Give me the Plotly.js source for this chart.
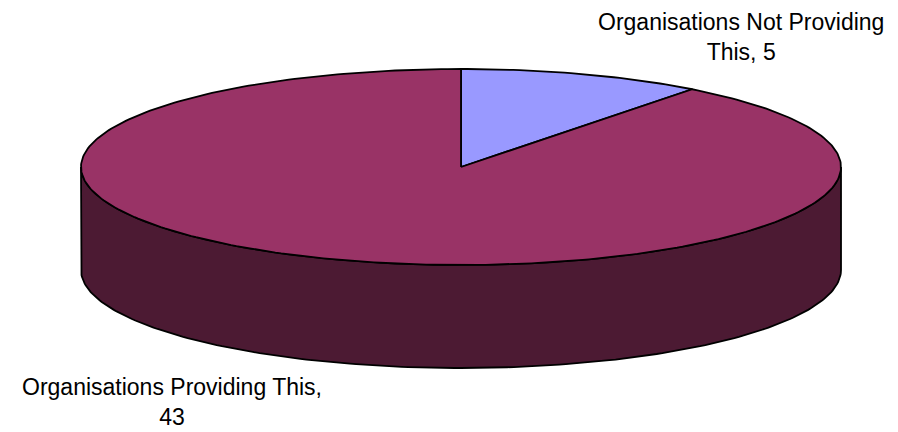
<!DOCTYPE html>
<html><head><meta charset="utf-8">
<script src="https://cdn.plot.ly/plotly-3.0.1.min.js"></script>
<style>html,body{margin:0;padding:0;background:#fff}</style>
</head><body><div id="chart" style="width:898px;height:432px"></div>
<script>
const labels = ["Organisations Not Providing This", "Organisations Providing This"];
const values = [5, 43];
const topColors = ["#9999FF", "#993366"];
const sideColors = ["#4D4D80", "#4C1A33"];

// geometry of the 3-D pie (pixel space of the plot area)
const cx = 461, cy = 167, rx = 380, ry = 98, depth = 103;

const total = values.reduce((a, b) => a + b, 0);
function pt(deg, dy) {
  const r = deg * Math.PI / 180;
  return [cx + rx * Math.sin(r), cy - ry * Math.cos(r) + (dy || 0)];
}
function arc(a0, a1, dy) {
  const n = Math.max(2, Math.ceil(Math.abs(a1 - a0) / 1));
  const out = [];
  for (let i = 0; i <= n; i++) out.push(pt(a0 + (a1 - a0) * i / n, dy));
  return out;
}
const traces = [];
let start = 0;
const slices = values.map((v, i) => {
  const s = { i, a0: start, a1: start + v / total * 360 };
  start = s.a1;
  return s;
});
// sides (front half: 90..270 deg)
slices.forEach(s => {
  const a0 = Math.max(s.a0, 90), a1 = Math.min(s.a1, 270);
  if (a1 <= a0) return;
  const pts = arc(a0, a1, 0).concat(arc(a1, a0, depth));
  pts.push(pts[0]);
  traces.push({
    type: "scatter", mode: "lines", fill: "toself",
    x: pts.map(p => p[0]), y: pts.map(p => p[1]),
    fillcolor: sideColors[s.i], line: { color: "#000", width: 1.8 },
    hoverinfo: "skip", showlegend: false
  });
});
// tops
slices.forEach(s => {
  const pts = [[cx, cy]].concat(arc(s.a0, s.a1, 0));
  pts.push([cx, cy]);
  traces.push({
    type: "scatter", mode: "lines", fill: "toself",
    x: pts.map(p => p[0]), y: pts.map(p => p[1]),
    fillcolor: topColors[s.i], line: { color: "#000", width: 1.8 },
    name: labels[s.i], text: labels[s.i] + ", " + values[s.i],
    hoverinfo: "text", showlegend: false
  });
});

const font = { family: "Liberation Sans, Arial, sans-serif", size: 23, color: "#000" };
const layout = {
  width: 898, height: 432,
  margin: { l: 0, r: 0, t: 0, b: 0 },
  paper_bgcolor: "#fff", plot_bgcolor: "#fff",
  xaxis: { range: [0, 898], visible: false, fixedrange: true },
  yaxis: { range: [432, 0], visible: false, fixedrange: true },
  showlegend: false,
  annotations: [
    { xref: "x", yref: "y", x: 741, y: 37, text: "Organisations Not Providing<br>This, " + values[0],
      showarrow: false, font: font, align: "center" },
    { xref: "x", yref: "y", x: 172, y: 402, text: "Organisations Providing This,<br>" + values[1],
      showarrow: false, font: font, align: "center" }
  ]
};
Plotly.newPlot("chart", traces, layout, { staticPlot: true });
</script></body></html>
